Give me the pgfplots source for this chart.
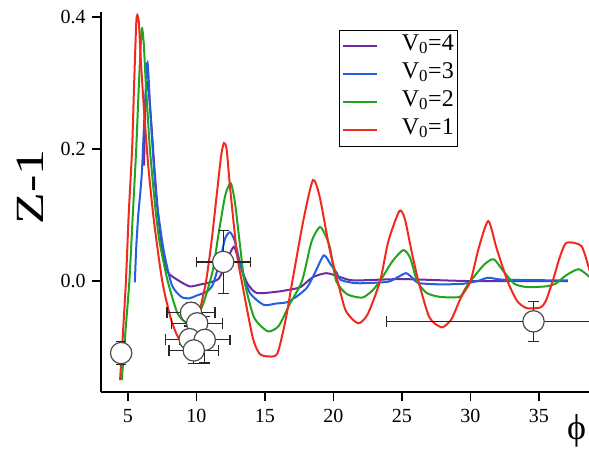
\documentclass[border=0pt]{standalone}
\usepackage{fontspec}
\setmainfont{Liberation Serif}
\usepackage{pgfplots}
\pgfplotsset{compat=1.18}
\usetikzlibrary{calc}
\definecolor{cPurple}{HTML}{6A2CA0}
\definecolor{cBlue}{HTML}{2060E0}
\definecolor{cGreen}{HTML}{1FA51F}
\definecolor{cRed}{HTML}{F22A1E}
\begin{document}
\begin{tikzpicture}
\begin{axis}[
  scale only axis,
  width=366pt, height=285pt,
  xmin=3.03, xmax=38.65,
  ymin=-0.168, ymax=0.4076,
  axis lines*=left,
  axis line style={line width=0.9pt},
  tick align=outside,
  major tick length=6.5pt,
  tick style={line width=0.9pt, black},
  xtick={5,10,...,35},
  ytick={0,0.2,0.4},
  yticklabel style={/pgf/number format/fixed, /pgf/number format/fixed zerofill,
    /pgf/number format/precision=1, xshift=-1.5pt},
  xticklabel style={yshift=-3pt},
  /pgf/number format/assume math mode=true,
  tick label style={font=\fontsize{15}{17}\selectfont},
  xlabel={ϕ},
  xlabel style={at={(rel axis cs:1,0)}, anchor=north east, yshift=-17pt, xshift=-2pt,
    font=\fontsize{27}{28}\selectfont, inner sep=0pt},
  ylabel={\scalebox{1.3}[1]{Z-1}},
  ylabel style={at={(rel axis cs:-0.145,0.54)}, anchor=center,
    font=\fontsize{30}{32}\selectfont, inner sep=0pt},
  legend cell align=left,
  legend style={at={(rel axis cs:0.488,0.953)}, anchor=north west,
    draw=black, line width=0.8pt, inner sep=1.5pt,
    font=\fontsize{18}{20}\selectfont,
    nodes={text height=12pt, text depth=6pt, inner sep=1.5pt},
    column sep=16pt},
  legend image code/.code={\draw[#1, line width=1.6pt] (2pt,0pt) -- (28pt,0pt);},
  every axis plot/.append style={line width=1.5pt},
]
\coordinate (bbsw) at (rel axis cs:0,0);
\coordinate (bbne) at (rel axis cs:1,1);

\addplot[cPurple, no marks, smooth, tension=0.4] coordinates {
(6.17,0.175) (6.25,0.25) (6.35,0.30) (6.5,0.29) (6.7,0.24) (6.9,0.18)
(7.2,0.10) (7.5,0.05) (7.9,0.014) (8.6,0.002) (9.5,-0.008) (10.3,-0.005)
(10.8,-0.003) (11.6,0.003) (12.0,0.02) (12.4,0.04) (12.75,0.052) (13.1,0.03)
(13.7,-0.003) (14.4,-0.018) (15.9,-0.016) (16.8,-0.013) (17.6,-0.009)
(18.5,0.006) (19.5,0.012) (20.5,0.006) (21.5,0.001) (25.0,0.003) (30.0,0.0) (37.1,0.0)
};
\addlegendentry{V\textsubscript{0}=4}

\addplot[cBlue, no marks, smooth, tension=0.4] coordinates {
(5.5,-0.002) (5.6,0.05) (5.75,0.10) (6.0,0.16) (6.2,0.25) (6.4,0.33) (6.5,0.31)
(6.65,0.25) (6.9,0.17) (7.1,0.12) (7.6,0.047) (8.2,-0.006) (8.9,-0.024)
(9.5,-0.026) (10.0,-0.022) (10.75,-0.016) (11.2,-0.005) (11.7,0.03) (12.1,0.065)
(12.45,0.074) (12.8,0.06) (13.3,0.017) (13.9,-0.018) (14.9,-0.036) (15.8,-0.034)
(16.6,-0.032) (17.4,-0.022) (18.1,-0.009) (18.7,0.015) (19.3,0.039) (19.8,0.025)
(20.25,0.012) (20.5,0.002) (21.5,-0.003) (22.5,-0.003) (24.0,-0.001) (24.7,0.006)
(25.3,0.012) (25.8,0.004) (26.2,-0.003) (27.8,-0.005) (29.5,-0.004) (30.5,0.0)
(31.3,0.005) (32.5,0.002) (37.1,0.001)
};
\addlegendentry{V\textsubscript{0}=3}

\addplot[cGreen, no marks, smooth, tension=0.4] coordinates {
(4.55,-0.15) (4.8,-0.08) (5.1,0.0) (5.35,0.10) (5.6,0.20) (5.8,0.30) (6.0,0.382)
(6.15,0.36) (6.3,0.30) (6.6,0.20) (7.0,0.11) (7.3,0.06) (7.9,0.0) (8.6,-0.048)
(9.2,-0.062) (9.8,-0.062) (10.5,-0.034) (11.2,0.017) (11.6,0.07) (12.1,0.13)
(12.5,0.148) (12.8,0.12) (13.2,0.05) (13.5,0.0) (14.2,-0.055) (15.2,-0.076)
(16.0,-0.068) (16.8,-0.035) (17.7,0.0) (18.4,0.06) (19.0,0.082) (19.4,0.07)
(19.75,0.05) (20.2,0.0) (21.0,-0.02) (22.1,-0.025) (22.8,-0.015) (23.4,0.0)
(24.3,0.03) (25.1,0.047) (25.6,0.035) (26.1,0.0) (26.8,-0.018) (27.8,-0.024)
(29.2,-0.024) (29.6,-0.012) (30.0,0.0) (31.0,0.025) (31.7,0.033) (32.4,0.015)
(33.2,-0.004) (34.1,-0.009) (35.5,-0.008) (36.2,-0.004) (37.0,0.009) (37.9,0.018)
(38.7,0.006)
};
\addlegendentry{V\textsubscript{0}=2}

\addplot[cRed, no marks, smooth, tension=0.4] coordinates {
(4.42,-0.15) (4.6,-0.09) (4.85,0.0) (5.05,0.10) (5.3,0.20) (5.45,0.30) (5.6,0.39)
(5.68,0.403) (5.8,0.39) (5.95,0.33) (6.2,0.25) (6.5,0.17) (6.9,0.09) (7.5,0.0)
(8.1,-0.055) (8.65,-0.085) (9.3,-0.10) (9.8,-0.085) (10.25,-0.044) (10.7,0.0)
(11.1,0.06) (11.5,0.135) (11.8,0.19) (12.0,0.209) (12.2,0.20) (12.45,0.142)
(12.95,0.042) (13.3,0.0) (14.1,-0.085) (14.6,-0.11) (15.2,-0.114) (15.9,-0.11)
(16.5,-0.059) (17.0,0.0) (17.8,0.092) (18.5,0.153) (19.0,0.127) (19.7,0.05)
(20.3,0.0) (20.9,-0.045) (21.8,-0.064) (22.5,-0.05) (23.4,0.0) (24.0,0.06)
(24.8,0.106) (25.2,0.095) (25.7,0.045) (26.2,0.0) (27.0,-0.055) (27.9,-0.07)
(28.6,-0.058) (29.3,-0.025) (30.0,0.0) (30.6,0.05) (31.3,0.091) (31.9,0.05)
(32.7,0.0) (33.4,-0.03) (34.1,-0.041) (35.1,-0.04) (35.5,-0.03) (36.0,0.0)
(36.5,0.035) (37.0,0.058) (38.1,0.053) (38.7,0.015)
};
\addlegendentry{V\textsubscript{0}=1}

\addplot[only marks, mark=*, mark size=8pt, forget plot,
  mark options={fill=white, draw=black!70, line width=0.9pt},
  error bars/.cd, x dir=both, x explicit, y dir=both, y explicit,
  error bar style={black!85, line width=0.9pt},
  error mark options={rotate=90, mark size=4pt, black!85, line width=0.9pt}]
  table[x=x, y=y, x error=ex, y error=ey] {
x y ex ey
4.5 -0.109 0.3 0.017
11.95 0.029 1.97 0.048
9.6 -0.048 1.75 0.015
10.05 -0.064 1.85 0.015
9.5 -0.088 1.75 0.02
10.6 -0.089 1.85 0.035
9.8 -0.105 1.8 0.02
34.6 -0.061 10.75 0.03
};
\end{axis}
\pgfresetboundingbox
\path ($(bbsw)+(-75.75pt,-45pt)$) rectangle ($(bbne)+(0pt,9pt)$);
\end{tikzpicture}
\end{document}
